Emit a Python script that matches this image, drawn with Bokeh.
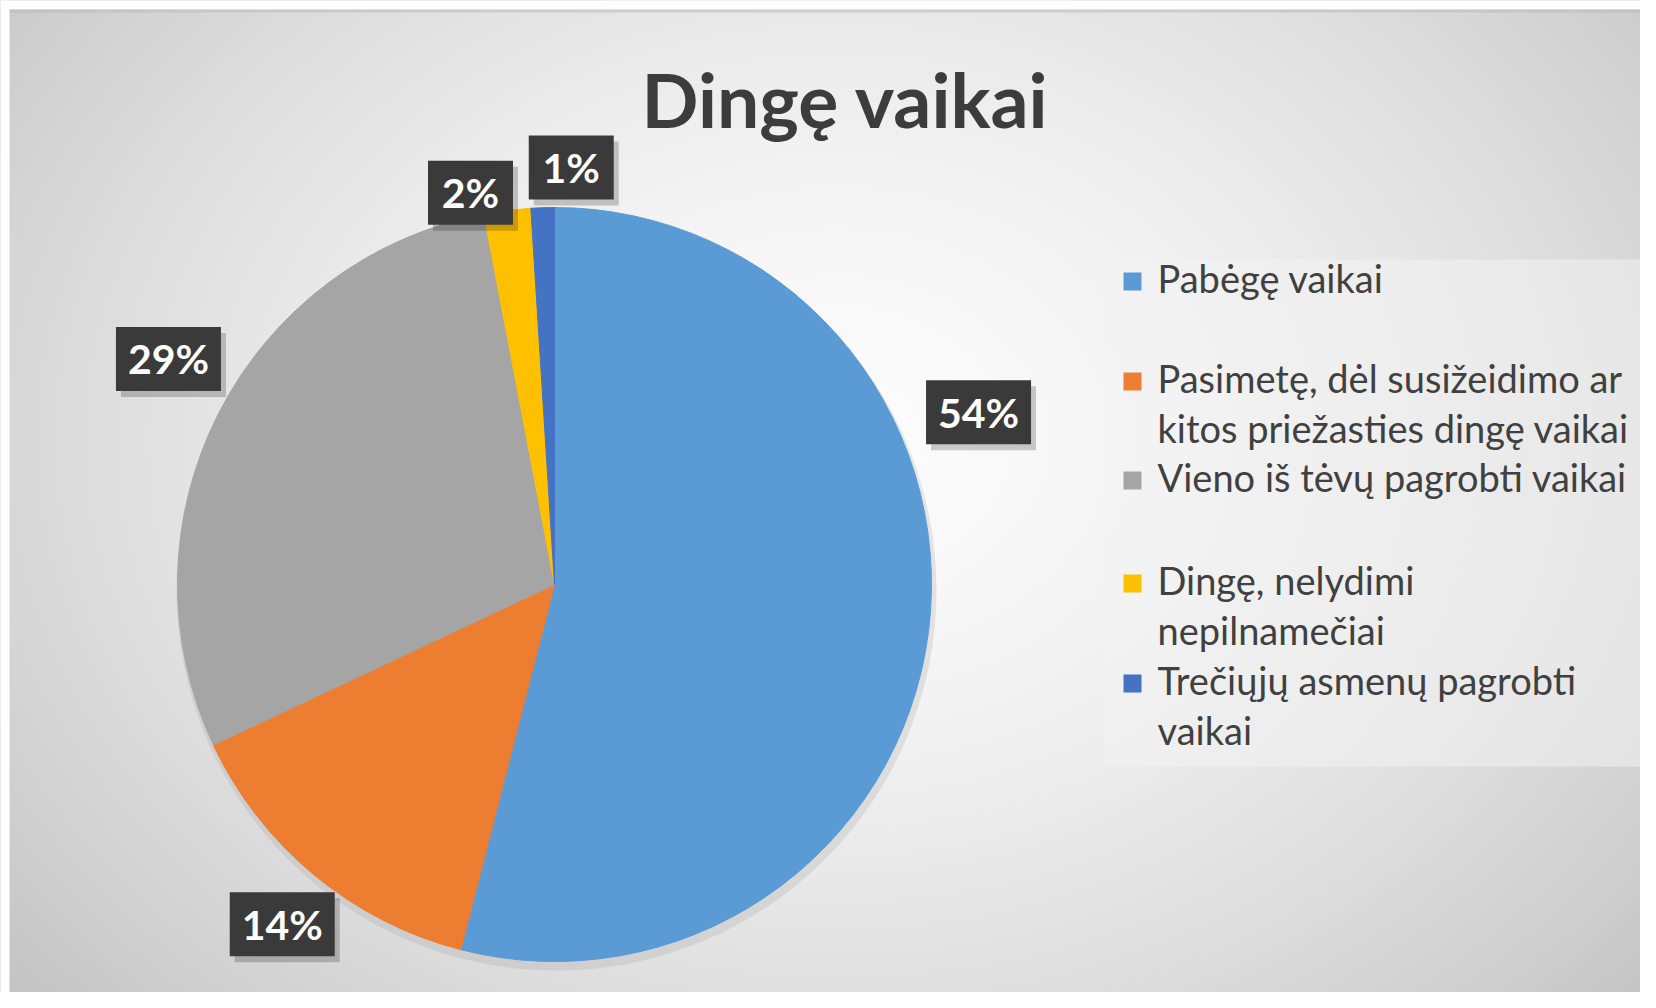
import numpy as np
from bokeh.plotting import figure
from bokeh.models import ColumnDataSource, Range1d
from bokeh.core.properties import value
from bokeh.embed import file_html
from bokeh.resources import INLINE

# ---------------- data ----------------
title = "Dingę vaikai"
categories = [
    "Pabėgę vaikai",
    "Pasimetę, dėl susižeidimo ar kitos priežasties dingę vaikai",
    "Vieno iš tėvų pagrobti vaikai",
    "Dingę, nelydimi nepilnamečiai",
    "Trečiųjų asmenų pagrobti vaikai",
]
legend_lines = [
    ["Pabėgę vaikai"],
    ["Pasimetę, dėl susižeidimo ar", "kitos priežasties dingę vaikai"],
    ["Vieno iš tėvų pagrobti vaikai"],
    ["Dingę, nelydimi", "nepilnamečiai"],
    ["Trečiųjų asmenų pagrobti", "vaikai"],
]
values = [54, 14, 29, 2, 1]
colors = ["#5B9BD5", "#ED7D31", "#A5A5A5", "#FFC000", "#4472C4"]

# ---------------- layout (not data) ----------------
W, H = 1640, 992
CX, CY, R = 554, 408, 377
label_angle_offsets_deg = [29.3, 0.9, -3.3, 4.9, -4.1]
label_radius_factors = [1.214, 1.155, 1.186, 1.063, 1.107]
FONT = "Lato"
BASE_FIX = 0.41  # alphabetic-baseline correction (em)

p = figure(width=W, height=H, x_range=Range1d(0, W), y_range=Range1d(0, H),
           output_backend="svg", toolbar_location=None, min_border=0)
p.axis.visible = False
p.grid.visible = False
p.outline_line_color = None
p.background_fill_color = "#dcdcdc"
p.border_fill_color = "#dcdcdc"

# radial gradient background
nx, ny = 410, 248
xs = (np.arange(nx) + 0.5) / nx * W
ys = (np.arange(ny) + 0.5) / ny * H
X, Y = np.meshgrid(xs, ys)
d = np.sqrt(((X - 838) / 900.0) ** 2 + ((Y - 552) / 700.0) ** 2)
g = np.clip(252 - 55 * (d / 1.2) ** 1.6, 180, 255).astype(np.uint8)
img = np.empty((ny, nx), dtype=np.uint32)
view = img.view(dtype=np.uint8).reshape((ny, nx, 4))
view[..., 0] = g
view[..., 1] = g
view[..., 2] = g
view[..., 3] = 255
p.image_rgba(image=[img], x=0, y=0, dw=W, dh=H)

# white screenshot edges (top / left) and thin dark rim under the top edge
p.quad(left=0, right=W, bottom=H - 9, top=H, fill_color="white", line_color=None)
p.quad(left=0, right=9, bottom=0, top=H, fill_color="white", line_color=None)
p.quad(left=9, right=W, bottom=H - 12, top=H - 9, fill_color="#bdbdbd",
       fill_alpha=0.6, line_color=None)

# legend background box
p.quad(left=1103, right=W, bottom=226, top=733, fill_color="#f2f2f2",
       fill_alpha=0.55, line_color=None)

# pie
vals = np.array(values, dtype=float)
frac = vals / vals.sum()
cum = np.concatenate([[0.0], np.cumsum(frac)])
start = np.pi / 2 - 2 * np.pi * cum[:-1]
end = np.pi / 2 - 2 * np.pi * cum[1:]

# soft shadow under the pie
p.circle(x=[CX + 2], y=[CY - 6], radius=R + 3, fill_color="#9a9a9a",
         fill_alpha=0.22, line_color=None)

src = ColumnDataSource(dict(start=start, end=end, color=colors, cat=categories))
p.wedge(x=CX, y=CY, radius=R, start_angle="start", end_angle="end",
        direction="clock", fill_color="color", line_color="color",
        line_width=1, source=src)

# data labels
mid = (start + end) / 2 + np.deg2rad(label_angle_offsets_deg)
rf = np.array(label_radius_factors)
lx = CX + rf * R * np.cos(mid)
ly = CY + rf * R * np.sin(mid)
labels = [f"{v:.0f}%" for v in frac * 100]
bw = [20 * len(t) + 45 for t in labels]
lsrc = ColumnDataSource(dict(x=lx, y=ly, xs=lx + 5, ys=ly - 6, w=bw, text=labels))
p.rect(x="xs", y="ys", width="w", height=64, fill_color="#000000",
       fill_alpha=0.2, line_color=None, source=lsrc)
p.rect(x="x", y="y", width="w", height=64, fill_color="#3a3a3a",
       line_color=None, source=lsrc)
p.text(x="x", y="y", text="text", text_align="center", text_baseline="middle",
       text_font=value(FONT), text_font_style="bold", text_font_size="41px",
       text_color="white", source=lsrc)

# title
TS = 75
p.text(x=[845], y=[H - 129 + BASE_FIX * TS], text=[title], text_align="center",
       text_baseline="alphabetic", text_font=value(FONT),
       text_font_style="bold", text_font_size=f"{TS}px", text_color="#3c3c3c")

# legend
LS = 38
leg_x_sq, leg_x_txt = 1132, 1157
base_rows = [293, 393, 492, 595, 695]  # screen-y of first-line baselines
line_step = 50
sq_x, sq_y, t_x, t_y, t_txt = [], [], [], [], []
for i, lines in enumerate(legend_lines):
    b = H - base_rows[i]
    sq_x.append(leg_x_sq)
    sq_y.append(b + 12)
    for j, ln in enumerate(lines):
        t_x.append(leg_x_txt)
        t_y.append(b - j * line_step + BASE_FIX * LS)
        t_txt.append(ln)
p.rect(x=sq_x, y=sq_y, width=18, height=18, fill_color=colors, line_color=None)
p.text(x=t_x, y=t_y, text=t_txt, text_align="left", text_baseline="alphabetic",
       text_font=value(FONT), text_font_size=f"{LS}px", text_color="#404040")

open("out.html", "w").write(file_html(p, INLINE))
